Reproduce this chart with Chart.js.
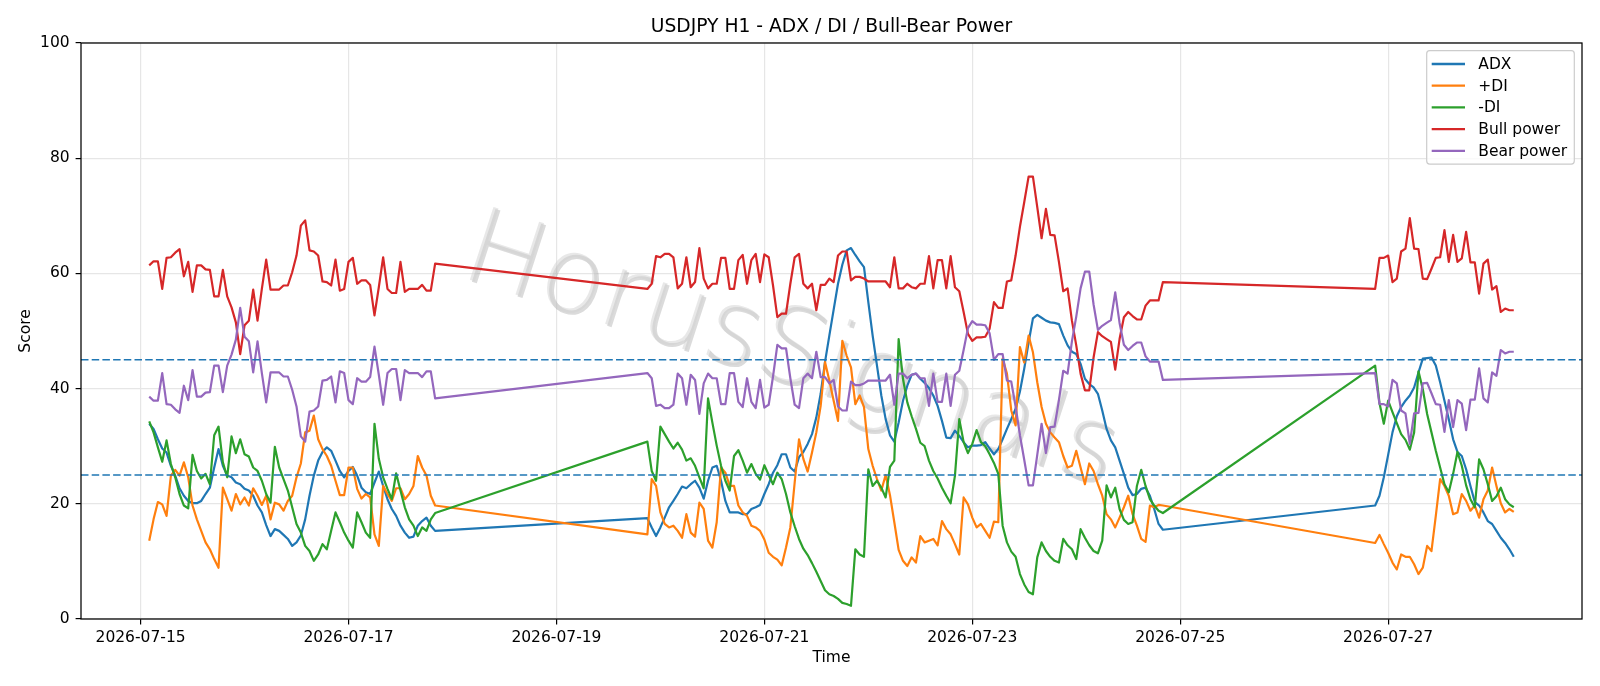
<!DOCTYPE html>
<html>
<head>
<meta charset="utf-8">
<script src="https://cdn.jsdelivr.net/npm/chart.js@4.4.1/dist/chart.umd.min.js"></script>
<style>
  html, body { margin: 0; padding: 0; background: #fff; }
</style>
</head>
<body>
<canvas id="chart" width="1600" height="686"></canvas>
<script>
// ---------- Data ----------

// hourly bars, one block per trading session (weekend gaps between them)
const sessionStarts = ['2026-07-15T02:00:00Z', '2026-07-19T21:00:00Z', '2026-07-26T21:00:00Z'];
const sessionLengths = [67, 120, 33];
const tickDates = ['2026-07-15', '2026-07-17', '2026-07-19', '2026-07-21', '2026-07-23', '2026-07-25', '2026-07-27'];
const thresholds = [25, 45];

const adx = [
    33.9, 33.0, 31.2, 29.6, 28.9, 26.6, 24.9, 22.7, 21.4, 20.5, 20.1, 20.1, 20.5, 21.7, 22.8, 26.3, 29.5, 26.6,
    24.9, 24.6, 23.7, 23.4, 22.6, 22.3, 21.4, 19.7, 18.5, 16.3, 14.4, 15.6, 15.3, 14.6, 13.9, 12.7, 13.3, 14.5,
    17.3, 21.4, 24.9, 27.5, 29.0, 29.8, 29.2, 27.5, 25.7, 24.6, 25.7, 26.4, 24.9, 22.8, 22.0, 21.7, 23.7, 25.6,
    23.1, 20.8, 19.1, 17.9, 16.2, 15.0, 14.1, 14.3, 16.2, 17.0, 17.6, 16.2, 15.3,
    17.5, 15.9, 14.4, 15.9, 17.6, 19.4, 20.5, 21.7, 23.0, 22.7, 23.4, 24.0, 22.8, 20.9, 24.0, 26.3, 26.6, 24.0,
    20.5, 18.5, 18.5, 18.5, 18.2, 18.2, 19.1, 19.4, 19.8, 21.7, 23.4,
    25.4, 26.7, 28.6, 28.6, 26.3, 25.6, 28.1, 29.0, 30.4, 32.1, 35.0, 39.1, 44.6, 49.2, 53.7, 58.2, 61.5, 64.0,
    64.4, 63.2, 62.1, 61.1, 55.0, 49.2, 44.0, 38.8, 34.7, 31.9, 30.8, 34.1,
    37.9, 40.5, 42.4, 42.6, 41.7, 41.0, 40.1, 38.8, 37.0, 34.4, 31.5, 31.4, 32.7, 31.8, 30.7, 29.8, 30.1, 30.1,
    30.2, 30.7, 29.6, 28.6, 29.5, 31.2, 33.0, 34.7, 36.5, 39.5, 43.5, 48.0,
    52.2, 52.8, 52.3, 51.8, 51.5, 51.4, 51.2, 49.2, 47.5, 46.4, 46.0, 44.3, 41.7, 40.8, 40.2, 39.1, 36.2, 33.0,
    31.0, 29.8, 27.5, 25.2, 22.8, 21.5, 21.7, 22.6, 22.8, 21.4, 19.1, 16.5, 15.5,
    19.7, 21.4, 24.6, 28.5, 32.4, 35.2, 36.8, 37.9, 38.8, 40.2, 42.8, 45.2, 45.3, 45.4, 44.0, 41.1, 37.9, 34.7,
    31.2, 29.0, 28.3, 26.0, 23.1, 20.3, 19.7, 18.5, 17.0, 16.5, 15.3, 14.1, 13.2, 12.1, 10.8
];

const plusDi = [
    13.6, 17.3, 20.3, 19.9, 17.9, 24.9, 25.9, 24.9, 27.2, 24.6, 19.7, 17.3, 15.3, 13.3, 12.1, 10.4, 8.9, 22.8,
    20.8, 18.8, 21.7, 19.9, 21.1, 19.7, 22.7, 21.4, 19.8, 21.4, 17.3, 20.2, 19.9, 18.8, 20.5, 21.4, 24.6, 27.0,
    32.4, 32.7, 35.3, 31.2, 29.5, 28.3, 26.6, 24.0, 21.5, 21.5, 26.3, 26.3, 22.6, 20.9, 21.7, 21.1, 14.7, 12.7,
    23.1, 21.7, 20.5, 22.7, 22.7, 20.8, 21.7, 23.1, 28.3, 26.3, 24.9, 21.4, 19.7,
    14.7, 24.3, 23.1, 18.5, 16.5, 15.9, 16.2, 15.3, 14.1, 18.2, 15.0, 14.3, 20.2, 19.1, 13.6, 12.4, 16.8, 26.3,
    25.4, 23.1, 23.1, 19.7, 18.5, 17.9, 16.2, 15.9, 15.3, 13.8, 11.5,
    10.8, 10.3, 9.3, 12.4, 15.9, 23.7, 31.2, 27.8, 25.6, 28.9, 32.4, 37.0, 44.6, 41.4, 37.9, 34.4, 48.3, 45.7,
    43.7, 37.3, 38.8, 36.8, 29.5, 26.6, 24.3, 22.3, 25.0, 21.5, 16.8, 12.0,
    10.1, 9.2, 10.7, 9.8, 14.4, 13.3, 13.6, 13.9, 12.8, 17.0, 15.6, 14.7, 13.0, 11.2, 21.1, 19.9, 17.6, 15.9,
    16.5, 15.3, 14.1, 16.9, 16.8, 45.2, 42.6, 36.2, 33.6, 47.2, 44.5, 49.2,
    46.3, 41.1, 36.8, 33.9, 32.4, 31.5, 30.7, 28.3, 26.3, 26.6, 29.2, 26.3, 23.4, 27.0, 25.7, 23.4, 21.4, 18.2,
    17.3, 15.9, 17.6, 19.4, 21.4, 18.2, 16.2, 13.9, 13.4, 19.7, 19.4, 19.8, 19.7,
    13.2, 14.6, 13.0, 11.5, 9.8, 8.6, 11.2, 10.8, 10.8, 9.5, 7.8, 8.9, 12.7, 11.8, 17.9, 24.3, 23.1, 21.4,
    18.2, 18.5, 21.7, 20.5, 18.8, 19.7, 17.6, 20.8, 22.3, 26.3, 23.1, 20.1, 18.5, 19.1, 18.6
];

const minusDi = [
    34.3, 32.4, 29.8, 27.3, 31.0, 26.9, 24.6, 21.7, 19.7, 19.2, 28.5, 25.7, 24.4, 25.2, 23.4, 31.9, 33.4, 27.2,
    24.6, 31.7, 28.8, 31.2, 28.6, 28.2, 26.3, 25.7, 24.0, 21.7, 20.2, 29.9, 26.3, 24.3, 22.3, 19.4, 16.5, 15.0,
    12.7, 11.8, 10.1, 11.2, 13.0, 12.1, 15.3, 18.5, 16.8, 15.0, 13.6, 12.4, 18.5, 16.8, 15.0, 14.1, 33.9, 27.8,
    24.6, 22.6, 20.8, 25.3, 22.3, 19.4, 17.3, 16.2, 14.4, 15.9, 15.3, 17.3, 18.4,
    30.8, 25.7, 24.0, 33.4, 32.1, 30.8, 29.6, 30.6, 29.4, 27.5, 27.9, 26.6, 24.6, 22.7, 38.3, 34.1, 30.1, 26.6,
    24.0, 22.3, 28.3, 29.3, 27.5, 25.4, 26.9, 25.2, 24.2, 26.7, 25.0,
    23.4, 25.4, 24.3, 21.7, 18.5, 16.1, 13.9, 12.2, 11.1, 9.7, 8.2, 6.6, 5.0, 4.3, 4.0, 3.5, 2.8, 2.6,
    2.3, 12.1, 11.2, 10.8, 26.0, 23.1, 24.0, 22.8, 21.1, 26.4, 27.5, 48.6,
    41.7, 37.6, 35.2, 33.0, 30.6, 30.0, 27.5, 25.7, 24.4, 22.8, 21.4, 20.1, 24.9, 34.7, 30.7, 28.8, 30.4, 32.8,
    30.7, 30.0, 28.6, 27.1, 25.2, 16.2, 13.3, 11.7, 10.8, 7.8, 6.0, 4.7,
    4.3, 10.7, 13.3, 11.8, 10.8, 10.1, 9.8, 13.9, 12.8, 12.1, 10.4, 15.6, 14.1, 12.8, 11.8, 11.4, 13.6, 23.2,
    21.1, 22.8, 19.1, 17.2, 16.5, 16.8, 23.1, 25.9, 23.1, 20.8, 19.7, 18.8, 18.4,
    44.0, 37.5, 33.9, 37.9, 35.9, 34.0, 32.1, 31.1, 29.4, 32.4, 43.0, 39.9, 35.6, 32.4, 29.2, 26.3, 23.4, 22.0,
    25.2, 29.0, 26.6, 23.2, 20.8, 19.4, 27.7, 26.0, 23.4, 20.5, 21.3, 22.8, 20.8, 19.9, 19.4
];

const bullPower = [
    61.4, 62.1, 62.1, 57.3, 62.7, 62.8, 63.6, 64.2, 59.5, 62.0, 56.8, 61.4, 61.4, 60.7, 60.6, 56.0, 56.0, 60.6,
    56.0, 54.1, 51.5, 46.0, 51.0, 51.8, 57.2, 51.8, 57.3, 62.4, 57.2, 57.2, 57.2, 57.9, 57.9, 60.2, 63.1, 68.3,
    69.2, 64.0, 63.8, 63.1, 58.6, 58.5, 57.9, 62.4, 57.0, 57.3, 62.0, 62.7, 58.2, 58.8, 58.8, 58.0, 52.7, 57.6,
    62.8, 57.3, 56.6, 56.6, 62.0, 56.8, 57.3, 57.3, 57.3, 58.0, 57.0, 57.0, 61.7,
    57.3, 58.2, 63.0, 62.8, 63.4, 63.4, 62.8, 57.4, 58.2, 62.8, 57.6, 58.5, 64.4, 59.1, 57.4, 58.2, 58.2, 62.7,
    62.7, 57.3, 57.3, 62.3, 63.2, 58.2, 62.3, 63.4, 58.5, 63.3, 62.8,
    57.9, 52.4, 53.0, 53.0, 58.2, 62.8, 63.4, 58.2, 57.4, 58.2, 53.6, 58.0, 58.0, 59.1, 58.5, 63.1, 63.8, 63.8,
    58.8, 59.4, 59.4, 59.1, 58.6, 58.6, 58.6, 58.6, 58.6, 57.6, 62.8, 57.4,
    57.4, 58.2, 57.6, 57.4, 58.2, 58.2, 63.0, 57.4, 62.3, 62.3, 57.4, 63.0, 57.6, 56.9, 53.3, 49.5, 48.3, 48.9,
    48.9, 49.0, 50.4, 55.0, 54.0, 54.0, 58.6, 58.8, 63.1, 68.1, 72.4, 76.8,
    76.8, 71.5, 66.1, 71.2, 66.7, 66.6, 62.0, 56.9, 57.4, 51.8, 47.5, 42.6, 39.7, 39.7, 45.4, 49.8, 49.1, 48.6,
    48.1, 43.3, 48.6, 52.4, 53.3, 52.6, 52.0, 52.0, 54.4, 55.3, 55.3, 55.3, 58.5,
    57.3, 62.7, 62.7, 63.1, 58.5, 59.1, 63.8, 64.3, 69.6, 64.3, 64.2, 59.1, 59.0, 60.8, 62.7, 62.8, 67.5, 62.0,
    66.7, 62.0, 62.6, 67.2, 61.9, 61.9, 56.5, 61.7, 62.4, 57.2, 57.8, 53.3, 53.9, 53.6, 53.6
];

const bearPower = [
    38.6, 37.9, 37.9, 42.7, 37.3, 37.2, 36.4, 35.8, 40.5, 38.0, 43.2, 38.6, 38.6, 39.3, 39.4, 44.0, 44.0, 39.4,
    44.0, 45.9, 48.5, 54.0, 49.0, 48.2, 42.8, 48.2, 42.7, 37.6, 42.8, 42.8, 42.8, 42.1, 42.1, 39.8, 36.9, 31.7,
    30.8, 36.0, 36.2, 36.9, 41.4, 41.5, 42.1, 37.6, 43.0, 42.7, 38.0, 37.3, 41.8, 41.2, 41.2, 42.0, 47.3, 42.4,
    37.2, 42.7, 43.4, 43.4, 38.0, 43.2, 42.7, 42.7, 42.7, 42.0, 43.0, 43.0, 38.3,
    42.7, 41.8, 37.0, 37.2, 36.6, 36.6, 37.2, 42.6, 41.8, 37.2, 42.4, 41.5, 35.6, 40.9, 42.6, 41.8, 41.8, 37.3,
    37.3, 42.7, 42.7, 37.7, 36.8, 41.8, 37.7, 36.6, 41.5, 36.7, 37.2,
    42.1, 47.6, 47.0, 47.0, 41.8, 37.2, 36.6, 41.8, 42.6, 41.8, 46.4, 42.0, 42.0, 40.9, 41.5, 36.9, 36.2, 36.2,
    41.2, 40.6, 40.6, 40.9, 41.4, 41.4, 41.4, 41.4, 41.4, 42.4, 37.2, 42.6,
    42.6, 41.8, 42.4, 42.6, 41.8, 41.8, 37.0, 42.6, 37.7, 37.7, 42.6, 37.0, 42.4, 43.1, 46.7, 50.5, 51.7, 51.1,
    51.1, 51.0, 49.6, 45.0, 46.0, 46.0, 41.4, 41.2, 36.9, 31.9, 27.6, 23.2,
    23.2, 28.5, 33.9, 28.8, 33.3, 33.4, 38.0, 43.1, 42.6, 48.2, 52.5, 57.4, 60.3, 60.3, 54.6, 50.2, 50.9, 51.4,
    51.9, 56.7, 51.4, 47.6, 46.7, 47.4, 48.0, 48.0, 45.6, 44.7, 44.7, 44.7, 41.5,
    42.7, 37.3, 37.3, 36.9, 41.5, 40.9, 36.2, 35.7, 30.4, 35.7, 35.8, 40.9, 41.0, 39.2, 37.3, 37.2, 32.5, 38.0,
    33.3, 38.0, 37.4, 32.8, 38.1, 38.1, 43.5, 38.3, 37.6, 42.8, 42.2, 46.7, 46.1, 46.4, 46.4
];

const seriesNames = ['ADX', '+DI', '-DI', 'Bull power', 'Bear power'];
const seriesColors = ['#1f77b4', '#ff7f0e', '#2ca02c', '#d62728', '#9467bd'];

// ---------- Helpers ----------

const HOUR = 3600 * 1000;
const FONT = '"DejaVu Sans", "Liberation Sans", sans-serif';

const times = [];
sessionStarts.forEach((start, s) => {
    const t0 = Date.parse(start);
    for (let i = 0; i < sessionLengths[s]; i++) times.push(t0 + i * HOUR);
});

// matplotlib style 5% margins on the time axis
const span = times[times.length - 1] - times[0];
const xMin = times[0] - 0.05 * span;
const xMax = times[times.length - 1] + 0.05 * span;
const tickValues = tickDates.map(d => Date.parse(d + 'T00:00:00Z'));

function toPoints(values) {
    return values.map((v, i) => ({ x: times[i], y: v }));
}

// ---------- Plugins ----------

const extras = {
    id: 'extras',
    beforeDatasetsDraw(chart) {
        // watermark, light text with a soft grey drop shadow
        const { ctx } = chart;
        ctx.save();
        ctx.font = '200 105px ' + FONT;
        ctx.textAlign = 'center';
        ctx.textBaseline = 'middle';
        const angle = 18 * Math.PI / 180;
        [[2, 2, 'rgba(110,110,110,0.25)'], [0, 0, 'rgba(210,210,210,0.5)']].forEach(([dx, dy, color]) => {
            ctx.setTransform(1, 0, 0, 1, 790 + dx, 355 + dy);
            ctx.rotate(angle);
            ctx.fillStyle = color;
            ctx.fillText('HorusSignals', 0, 0);
        });
        ctx.restore();
    },
    afterDatasetsDraw(chart) {
        const { ctx, chartArea: a, scales } = chart;
        ctx.save();
        // threshold lines
        ctx.strokeStyle = '#1f77b4';
        ctx.lineWidth = 1.5;
        ctx.setLineDash([7.5, 3.2]);
        thresholds.forEach(t => {
            const y = scales.y.getPixelForValue(t);
            ctx.beginPath();
            ctx.moveTo(a.left, y);
            ctx.lineTo(a.right, y);
            ctx.stroke();
        });
        ctx.setLineDash([]);
        // spines
        ctx.strokeStyle = '#000';
        ctx.lineWidth = 1.25;
        ctx.strokeRect(a.left, a.top, a.right - a.left, a.bottom - a.top);
        ctx.restore();
    },
    afterDraw(chart) {
        const { ctx, chartArea: a } = chart;
        ctx.save();

        // title
        ctx.fillStyle = '#000';
        ctx.font = '18.7px ' + FONT;
        ctx.textAlign = 'center';
        ctx.textBaseline = 'alphabetic';
        ctx.fillText('USDJPY H1 - ADX / DI / Bull-Bear Power', (a.left + a.right) / 2, 32);

        // legend
        const bx = 1426.7, by = 50.7, bw = 147.6, bh = 113.4;
        ctx.beginPath();
        ctx.roundRect(bx, by, bw, bh, 3);
        ctx.fillStyle = 'rgba(255,255,255,0.8)';
        ctx.fill();
        ctx.strokeStyle = '#cccccc';
        ctx.lineWidth = 1.2;
        ctx.stroke();
        ctx.font = '15.5px ' + FONT;
        ctx.textAlign = 'left';
        ctx.textBaseline = 'middle';
        seriesNames.forEach((name, i) => {
            const y = 64 + i * 21.7;
            ctx.strokeStyle = seriesColors[i];
            ctx.lineWidth = 2.3;
            ctx.beginPath();
            ctx.moveTo(1431.7, y);
            ctx.lineTo(1465, y);
            ctx.stroke();
            ctx.fillStyle = '#000';
            ctx.fillText(name, 1478.3, y + 1);
        });
        ctx.restore();
    }
};

// ---------- Chart ----------

const seriesValues = [adx, plusDi, minusDi, bullPower, bearPower];

const datasets = seriesNames.map((name, i) => ({
    label: name,
    data: toPoints(seriesValues[i]),
    borderColor: seriesColors[i],
    backgroundColor: seriesColors[i],
    borderWidth: 2.2,
    borderJoinStyle: 'round',
    pointRadius: 0,
    tension: 0,
    fill: false,
    order: seriesNames.length - i
}));

const gridStyle = {
    color: '#e6e6e6',
    lineWidth: 1.2,
    tickLength: 5.4,
    tickColor: '#000',
    tickWidth: 1.2
};

new Chart(document.getElementById('chart'), {
    type: 'line',
    data: { datasets },
    options: {
        responsive: false,
        animation: false,
        devicePixelRatio: 1,
        layout: { padding: { top: 43, right: 18, left: 0, bottom: 0 } },
        plugins: {
            legend: { display: false },
            tooltip: { enabled: false },
            title: { display: false }
        },
        scales: {
            x: {
                type: 'linear',
                min: xMin,
                max: xMax,
                afterBuildTicks: axis => { axis.ticks = tickValues.map(v => ({ value: v })); },
                afterFit: axis => { axis.height = 67; },
                ticks: {
                    autoSkip: false,
                    maxRotation: 0,
                    padding: 4,
                    color: '#000',
                    font: { family: FONT, size: 15.5 },
                    callback: v => new Date(v).toISOString().slice(0, 10)
                },
                grid: gridStyle,
                border: { display: false },
                title: {
                    display: true,
                    text: 'Time',
                    color: '#000',
                    font: { family: FONT, size: 15.5 },
                    padding: { top: 0, bottom: 18.7 }
                }
            },
            y: {
                min: 0,
                max: 100,
                afterFit: axis => { axis.width = 81; },
                ticks: {
                    stepSize: 20,
                    padding: 6,
                    color: '#000',
                    font: { family: FONT, size: 15.5 }
                },
                grid: gridStyle,
                border: { display: false },
                title: {
                    display: true,
                    text: 'Score',
                    color: '#000',
                    font: { family: FONT, size: 15.5 },
                    padding: { top: 16.2, bottom: 0 }
                }
            }
        }
    },
    plugins: [extras]
});
</script>
</body>
</html>
